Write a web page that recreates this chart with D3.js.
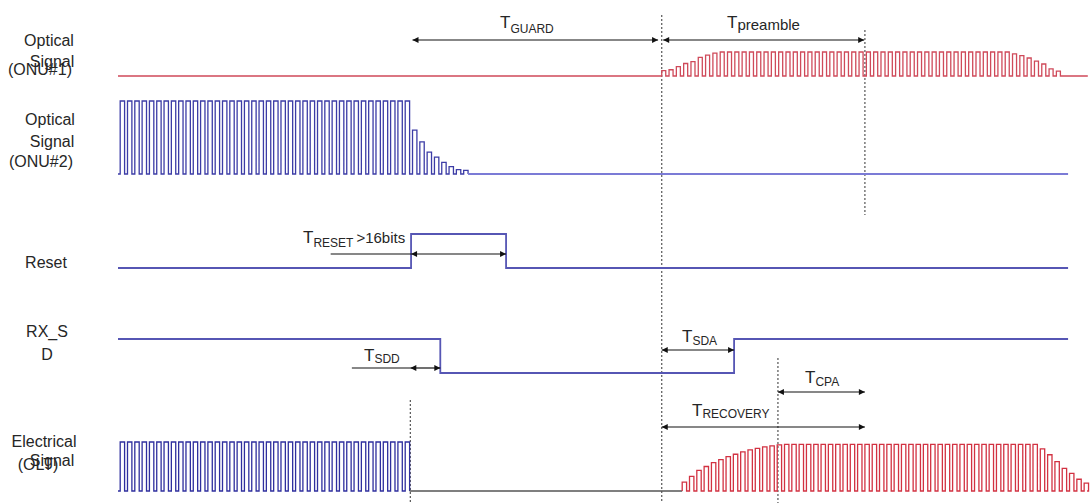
<!DOCTYPE html>
<html>
<head>
<meta charset="utf-8">
<script src="https://cdn.jsdelivr.net/npm/d3@7/dist/d3.min.js"></script>
<style>
  body { margin: 0; background: #fff; }
  text { font-family: "Liberation Sans", Arial, sans-serif; fill: #262626; }
</style>
</head>
<body>
<script>
// time is measured in bit periods from the left edge of the traces

// pulse amplitudes (0..1) of each bit
const onu1Start = 74.4;
const onu1Amp = [0.22, 0.26, 0.39, 0.52, 0.6, 0.78, 0.87, 0.95,
  1, 1, 1, 1, 1, 1, 1, 1, 1, 1, 1, 1, 1, 1, 1, 1, 1, 1, 1, 1,
  1, 1, 1, 1, 1, 1, 1, 1, 1, 1, 1, 1, 1, 1, 1, 1, 1, 1, 1, 1,
  0.92, 0.85, 0.75, 0.62, 0.5, 0.3, 0.2];

const onu2Start = 0.3;
const onu2Amp = [1, 1, 1, 1, 1, 1, 1, 1, 1, 1, 1, 1, 1, 1, 1, 1, 1, 1, 1, 1,
  1, 1, 1, 1, 1, 1, 1, 1, 1, 1, 1, 1, 1, 1, 1, 1, 1, 1, 1, 1,
  0.6, 0.44, 0.3, 0.23, 0.16, 0.1, 0.06, 0.05];

const oltBlueStart = 0.3;
const oltBlueAmp = [1, 1, 1, 1, 1, 1, 1, 1, 1, 1, 1, 1, 1, 1, 1, 1, 1, 1, 1, 1,
  1, 1, 1, 1, 1, 1, 1, 1, 1, 1, 1, 1, 1, 1, 1, 1, 1, 1, 1, 1];

const oltRedStart = 77.2;
const oltRedAmp = [0.18, 0.3, 0.42, 0.5, 0.58, 0.64, 0.7, 0.75, 0.8, 0.84, 0.87, 0.9, 0.92, 0.94, 0.95,
  0.95, 0.95, 0.95, 0.95, 0.95, 0.95, 0.95, 0.95, 0.95, 0.95, 0.95, 0.95, 0.95, 0.95, 0.95, 0.95, 0.95,
  0.95, 0.95, 0.95, 0.95, 0.95, 0.95, 0.95, 0.95, 0.95, 0.95, 0.95, 0.95, 0.95, 0.95, 0.95, 0.95, 0.95,
  0.86, 0.74, 0.6, 0.46, 0.36, 0.24, 0.16];

// logic levels as [time, level] steps
const resetSteps = [[0, 0], [40.1, 1], [53.1, 0], [130, 0]];
const rxsdSteps = [[0, 1], [44.1, 0], [84.3, 1], [130, 1]];

// timing markers
const markers = [
  {t: 40, y0: 400, y1: 503},
  {t: 74.4, y0: 15, y1: 503},
  {t: 102.2, y0: 30, y1: 215},
  {t: 90.3, y0: 358, y1: 503}
];

// intervals : name, sub, from, to, optional lead-in line start
const intervals = [
  {sub: "GUARD", from: 40.3, to: 73.9},
  {sub: "preamble", from: 74.6, to: 102.1},
  {sub: "RESET", from: 40.1, to: 53.1, lead: 29.1, extra: ">16bits"},
  {sub: "SDD", from: 40, to: 44.1, lead: 32},
  {sub: "SDA", from: 74.4, to: 84.3},
  {sub: "CPA", from: 90.3, to: 102.2},
  {sub: "RECOVERY", from: 74.4, to: 102.2}
];

const trackLabels = [
  ["Optical", "Signal", "(ONU#1)"],
  ["Optical", "Signal", "(ONU#2)"],
  ["Reset"],
  ["RX_S", "D"],
  ["Electrical", "Signal", "(OLT)"]
];

// ---- layout ----
const W = 1091, H = 503;
const x = d3.scaleLinear().domain([0, 133]).range([118, 1090]);

const tracks = {
  onu1: d3.scaleLinear().domain([0, 1]).range([76, 52]),
  onu2: d3.scaleLinear().domain([0, 1]).range([174, 101]),
  reset: d3.scaleLinear().domain([0, 1]).range([268, 234]),
  rxsd: d3.scaleLinear().domain([0, 1]).range([373, 339]),
  olt: d3.scaleLinear().domain([0, 1]).range([491, 442])
};

const intervalLayout = {
  GUARD: {y: 40, tx: 500, ty: 28, tsub: 5},
  preamble: {y: 40, tx: 727, ty: 28, tsub: 2, subSize: 15},
  RESET: {y: 254, tx: 303, ty: 243, tsub: 4},
  SDD: {y: 368, tx: 364, ty: 361, tsub: 2},
  SDA: {y: 350, tx: 682, ty: 342, tsub: 3},
  CPA: {y: 392, tx: 805, ty: 383, tsub: 3},
  RECOVERY: {y: 427, tx: 692, ty: 416, tsub: 2}
};

const labelLayout = [
  [{x: 49, y: 46}, {x: 52, y: 67}, {x: 40, y: 75}],
  [{x: 50, y: 125}, {x: 52, y: 147}, {x: 41, y: 167}],
  [{x: 46, y: 268}],
  [{x: 47, y: 337}, {x: 47, y: 360}],
  [{x: 44, y: 447}, {x: 52, y: 466}, {x: 38, y: 470}]
];

const svg = d3.select("body").append("svg")
    .attr("width", W)
    .attr("height", H);

svg.append("defs").append("marker")
    .attr("id", "arr")
    .attr("viewBox", "0 0 10 10")
    .attr("refX", 10)
    .attr("refY", 5)
    .attr("markerUnits", "userSpaceOnUse")
    .attr("markerWidth", 8)
    .attr("markerHeight", 6)
    .attr("orient", "auto-start-reverse")
  .append("path")
    .attr("d", "M0,0L10,5L0,10z")
    .attr("fill", "#111");

// build pulse points from a start time and amplitude list
function pulses(t0, amps, duty) {
  const pts = [[t0, 0]];
  amps.forEach((a, i) => {
    pts.push([t0 + i, 0], [t0 + i, a], [t0 + i + duty, a], [t0 + i + duty, 0]);
  });
  return pts;
}

function drawPath(pts, yScale, color, width, curve) {
  const line = d3.line()
      .x(d => x(d[0]))
      .y(d => yScale(d[1]));
  if (curve) line.curve(curve);
  svg.append("path")
      .attr("d", line(pts))
      .attr("fill", "none")
      .attr("stroke", color)
      .attr("stroke-width", width)
      .attr("stroke-linejoin", "miter");
}

// dashed markers behind the traces
svg.selectAll(".marker")
  .data(markers)
  .join("line")
    .attr("class", "marker")
    .attr("x1", d => x(d.t))
    .attr("x2", d => x(d.t))
    .attr("y1", d => d.y0)
    .attr("y2", d => d.y1)
    .attr("stroke", "#555")
    .attr("stroke-width", 1.2)
    .attr("stroke-dasharray", "2,2");

// ONU#1
let p = [[0, 0]].concat(pulses(onu1Start, onu1Amp, 0.55));
p.push([132.7, 0]);
drawPath(p, tracks.onu1, "#cf4a5a", 1.3);

// ONU#2
p = [[0, 0]].concat(pulses(onu2Start, onu2Amp, 0.6));
drawPath(p, tracks.onu2, "#3c3ca6", 1.3);
drawPath([[onu2Start + onu2Amp.length - 0.4, 0], [130, 0]], tracks.onu2, "#7b7bd6", 2);

// Reset and RX_SD
drawPath(resetSteps, tracks.reset, "#5656b4", 1.8, d3.curveStepAfter);
drawPath(rxsdSteps, tracks.rxsd, "#5656b4", 1.8, d3.curveStepAfter);

// Electrical OLT
p = [[0, 0]].concat(pulses(oltBlueStart, oltBlueAmp, 0.6));
drawPath(p, tracks.olt, "#2f2f9e", 1.3);
const blueEnd = oltBlueStart + oltBlueAmp.length - 0.4;
drawPath([[blueEnd, 0], [oltRedStart, 0]], tracks.olt, "#555", 1.6);
p = pulses(oltRedStart, oltRedAmp, 0.6);
p.push([132.6, 0]);
drawPath(p, tracks.olt, "#d23242", 1.3);

// interval arrows
intervals.forEach(d => {
  const L = intervalLayout[d.sub];
  if (d.lead !== undefined) {
    svg.append("line")
        .attr("x1", x(d.lead)).attr("x2", x(d.from))
        .attr("y1", L.y).attr("y2", L.y)
        .attr("stroke", "#111").attr("stroke-width", 1.2);
  }
  svg.append("line")
      .attr("x1", x(d.from)).attr("x2", x(d.to))
      .attr("y1", L.y).attr("y2", L.y)
      .attr("stroke", "#111").attr("stroke-width", 1.2)
      .attr("marker-start", "url(#arr)")
      .attr("marker-end", "url(#arr)");

  const t = svg.append("text")
      .attr("x", L.tx)
      .attr("y", L.ty);
  t.append("tspan").attr("font-size", 17).text("T");
  t.append("tspan")
      .attr("font-size", L.subSize || 12)
      .attr("dy", L.tsub)
      .text(d.sub);
  if (d.extra) {
    t.append("tspan")
        .attr("font-size", 15)
        .attr("dy", -L.tsub)
        .attr("dx", 3)
        .text(d.extra);
  }
});

// track labels on the left
trackLabels.forEach((lines, i) => {
  lines.forEach((s, j) => {
    svg.append("text")
        .attr("x", labelLayout[i][j].x)
        .attr("y", labelLayout[i][j].y)
        .attr("text-anchor", "middle")
        .attr("font-size", 16)
        .text(s);
  });
});
</script>
</body>
</html>
